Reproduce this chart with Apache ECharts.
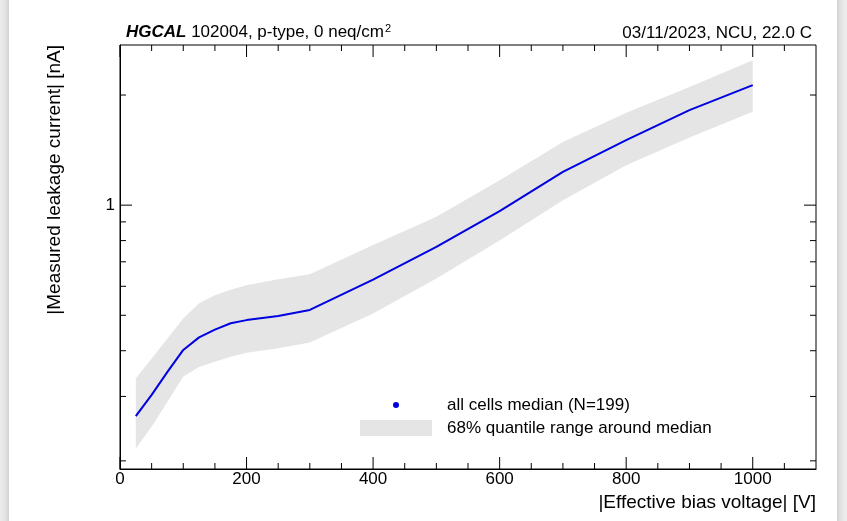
<!DOCTYPE html>
<html><head><meta charset="utf-8">
<script src="https://cdn.jsdelivr.net/npm/echarts/dist/echarts.min.js"></script>
<style>
html,body{margin:0;padding:0;width:847px;height:521px;overflow:hidden;background:#ececec;}
#paper{position:absolute;left:9px;top:-10px;width:828px;height:540px;background:#fff;box-shadow:0 0 8px rgba(0,0,0,0.22);}
#chart{position:absolute;left:0;top:0;width:847px;height:521px;}
</style></head><body>
<div id="paper"></div><div id="chart"></div>
<script>
// ---- data ----
const voltages   = [25, 50, 75, 100, 125, 150, 175, 200, 250, 300, 400, 500, 600, 700, 800, 900, 1000];
const median     = [0.265, 0.303, 0.350, 0.402, 0.435, 0.457, 0.4755, 0.485, 0.498, 0.517, 0.626, 0.769, 0.963, 1.233, 1.505, 1.818, 2.128];
const bandLow    = [0.216, 0.248, 0.290, 0.340, 0.361, 0.373, 0.385, 0.395, 0.406, 0.421, 0.506, 0.630, 0.800, 1.032, 1.286, 1.531, 1.800];
const bandHigh   = [0.336, 0.381, 0.432, 0.490, 0.539, 0.567, 0.587, 0.604, 0.627, 0.647, 0.778, 0.929, 1.170, 1.489, 1.788, 2.105, 2.490];
const xMajorTicks = [0, 200, 400, 600, 800, 1000];
const xMinorTicks = [50, 100, 150, 250, 300, 350, 450, 500, 550, 650, 700, 750, 850, 900, 950, 1050];
const yMajorTicks = [1];
const yMinorTicks = [0.2, 0.3, 0.4, 0.5, 0.6, 0.7, 0.8, 0.9, 2];
const xRange = [0, 1100];
const yRange = [0.19, 2.74];

const FONT = '"Liberation Sans", Arial, Helvetica, sans-serif';
const chart = echarts.init(document.getElementById('chart'), null, {renderer: 'canvas'});

function isMajor(list, v) { return list.some(t => Math.abs(t - v) < 1e-9); }

const option = {
  animation: false,
  backgroundColor: 'transparent',
  grid: {left: 120, right: 31, top: 45, bottom: 52, show: true, borderColor: '#000', borderWidth: 1,
         containLabel: false, outerBoundsMode: 'none'},
  xAxis: {
    type: 'value', min: xRange[0], max: xRange[1], interval: 200,
    axisLine: {show: true, onZero: false, lineStyle: {color: '#000', width: 1}},
    axisTick: {show: false}, splitLine: {show: false},
    axisLabel: {color: '#000', fontSize: 17, fontFamily: FONT, margin: 2,
      formatter: v => isMajor(xMajorTicks, v) ? String(v) : ''}
  },
  yAxis: {
    type: 'log', logBase: 10, min: yRange[0], max: yRange[1],
    axisLine: {show: true, onZero: false, lineStyle: {color: '#000', width: 1}},
    axisTick: {show: false}, splitLine: {show: false},
    axisLabel: {color: '#000', fontSize: 17, fontFamily: FONT, margin: 5,
      formatter: v => isMajor(yMajorTicks, v) ? String(Math.round(v)) : ''}
  },
  series: [
    {
      type: 'custom', name: 'band', silent: true, z: 1,
      data: voltages.map((v, i) => [v, bandLow[i], bandHigh[i]]),
      encode: {x: 0, y: [1, 2]},
      renderItem: (params, api) => {
        if (params.dataIndex !== 0) return;
        const pts = [];
        voltages.forEach((v, i) => pts.push(api.coord([v, bandHigh[i]])));
        for (let i = voltages.length - 1; i >= 0; i--) pts.push(api.coord([voltages[i], bandLow[i]]));
        return {type: 'polygon', shape: {points: pts}, style: {fill: '#e5e5e5', stroke: null}};
      }
    },
    {
      type: 'line', name: 'median', z: 3, symbol: 'none',
      data: voltages.map((v, i) => [v, median[i]]),
      lineStyle: {color: '#0000e0', width: 2}
    },
    {
      type: 'custom', name: 'xticks', silent: true, clip: false, z: 5,
      data: xMajorTicks.concat(xMinorTicks).map(v => [v, 1]),
      renderItem: (params, api) => {
        const v = api.value(0);
        const x = api.coord([v, 1])[0];
        const cs = params.coordSys;
        const len = isMajor(xMajorTicks, v) ? 12 : 6;
        const st = {stroke: '#000', lineWidth: 1};
        return {type: 'group', children: [
          {type: 'line', shape: {x1: x, y1: cs.y + cs.height, x2: x, y2: cs.y + cs.height - len}, style: st},
          {type: 'line', shape: {x1: x, y1: cs.y, x2: x, y2: cs.y + len}, style: st}
        ]};
      }
    },
    {
      type: 'custom', name: 'yticks', silent: true, clip: false, z: 5,
      data: yMajorTicks.concat(yMinorTicks).map(v => [xRange[0], v]),
      renderItem: (params, api) => {
        const v = api.value(1);
        const y = api.coord([xRange[0], v])[1];
        const cs = params.coordSys;
        const len = isMajor(yMajorTicks, v) ? 12 : 6;
        const st = {stroke: '#000', lineWidth: 1};
        return {type: 'group', children: [
          {type: 'line', shape: {x1: cs.x, y1: y, x2: cs.x + len, y2: y}, style: st},
          {type: 'line', shape: {x1: cs.x + cs.width, y1: y, x2: cs.x + cs.width - len, y2: y}, style: st}
        ]};
      }
    }
  ],
  graphic: [
    {type: 'text', left: 126, top: 23, style: {
      text: '{b|HGCAL} 102004, p-type, 0 neq/cm{sup|2}',
      font: '17px ' + FONT, fill: '#000',
      rich: {b: {fontWeight: 'bold', fontStyle: 'italic', fontSize: 17, fontFamily: FONT},
             sup: {fontSize: 11, fontFamily: FONT, verticalAlign: 'top', padding: [0, 0, 8, 1]}}
    }},
    {type: 'text', x: 812, y: 33, style: {text: '03/11/2023, NCU, 22.0 C', font: '17px ' + FONT, fill: '#000', align: 'right', verticalAlign: 'middle'}},
    {type: 'text', x: 55, y: 45, rotation: Math.PI / 2, style: {text: '|Measured leakage current| [nA]', font: '19px ' + FONT, fill: '#000', align: 'right', verticalAlign: 'middle'}},
    {type: 'text', x: 816, y: 503, style: {text: '|Effective bias voltage| [V]', font: '19px ' + FONT, fill: '#000', align: 'right', verticalAlign: 'middle'}},
    {type: 'circle', shape: {cx: 396, cy: 405, r: 3}, style: {fill: '#0000e0'}, z: 10},
    {type: 'text', x: 447, y: 405, style: {text: 'all cells median (N=199)', font: '17px ' + FONT, fill: '#000', align: 'left', verticalAlign: 'middle'}, z: 10},
    {type: 'rect', shape: {x: 360, y: 420, width: 72, height: 16}, style: {fill: '#e5e5e5'}, z: 10},
    {type: 'text', x: 447, y: 428, style: {text: '68% quantile range around median', font: '17px ' + FONT, fill: '#000', align: 'left', verticalAlign: 'middle'}, z: 10}
  ]
};
chart.setOption(option);
</script>
</body></html>
